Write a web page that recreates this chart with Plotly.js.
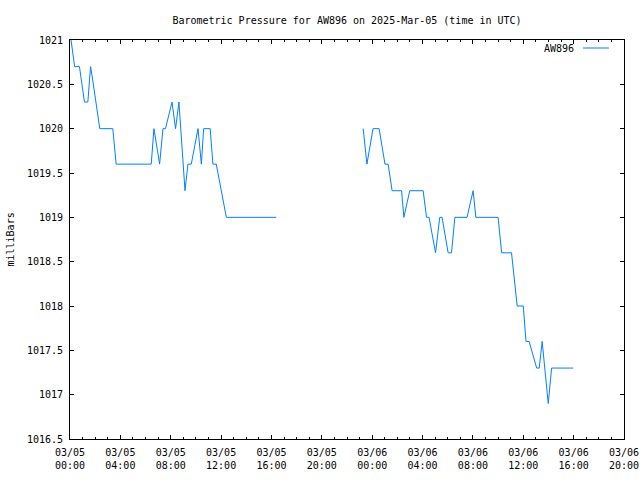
<!DOCTYPE html>
<html>
<head>
<meta charset="utf-8">
<script src="https://cdn.plot.ly/plotly-3.0.1.min.js"></script>
<style>html,body{margin:0;padding:0;background:#fff;}#chart{width:640px;height:480px;}</style>
</head>
<body>
<div id="chart"></div>
<script>
const seriesName = "AW896";
const times = [
  "2025-03-05 00:05","2025-03-05 00:22","2025-03-05 00:45","2025-03-05 01:09","2025-03-05 01:25",
  "2025-03-05 01:38","2025-03-05 01:45","2025-03-05 02:22","2025-03-05 03:24","2025-03-05 03:40",
  "2025-03-05 06:27","2025-03-05 06:40","2025-03-05 07:07","2025-03-05 07:23","2025-03-05 07:35",
  "2025-03-05 08:06","2025-03-05 08:23","2025-03-05 08:39","2025-03-05 09:08","2025-03-05 09:22",
  "2025-03-05 09:38","2025-03-05 10:10","2025-03-05 10:26","2025-03-05 10:37","2025-03-05 11:08",
  "2025-03-05 11:21","2025-03-05 11:37","2025-03-05 12:25","2025-03-05 16:23",
  "2025-03-05 20:00",
  "2025-03-05 23:17","2025-03-05 23:35","2025-03-06 00:04","2025-03-06 00:33","2025-03-06 01:01",
  "2025-03-06 01:16","2025-03-06 01:35","2025-03-06 02:20","2025-03-06 02:31","2025-03-06 02:59",
  "2025-03-06 04:03","2025-03-06 04:19","2025-03-06 04:31","2025-03-06 05:02","2025-03-06 05:22",
  "2025-03-06 05:33","2025-03-06 06:02","2025-03-06 06:18","2025-03-06 06:34","2025-03-06 07:32",
  "2025-03-06 08:01","2025-03-06 08:14","2025-03-06 10:00","2025-03-06 10:17","2025-03-06 11:04",
  "2025-03-06 11:31","2025-03-06 12:00","2025-03-06 12:13","2025-03-06 12:28","2025-03-06 13:04",
  "2025-03-06 13:16","2025-03-06 13:30","2025-03-06 13:59","2025-03-06 14:15","2025-03-06 15:58"
];
const pressure = [
  1021.0,1020.7,1020.7,1020.3,1020.3,
  1020.7,1020.6,1020.0,1020.0,1019.6,
  1019.6,1020.0,1019.6,1020.0,1020.0,
  1020.3,1020.0,1020.3,1019.3,1019.6,
  1019.6,1020.0,1019.6,1020.0,1020.0,
  1019.6,1019.6,1019.0,1019.0,
  null,
  1020.0,1019.6,1020.0,1020.0,1019.6,
  1019.6,1019.3,1019.3,1019.0,1019.3,
  1019.3,1019.0,1019.0,1018.6,1019.0,
  1019.0,1018.6,1018.6,1019.0,1019.0,
  1019.3,1019.0,1019.0,1018.6,1018.6,
  1018.0,1018.0,1017.6,1017.6,1017.3,
  1017.3,1017.6,1016.9,1017.3,1017.3
];
const titleText = "Barometric Pressure for AW896 on 2025-Mar-05 (time in UTC)";
const yTitle = "milliBars";
const xRange = ["2025-03-05 00:00","2025-03-06 20:00"];
const yRange = [1016.5, 1021];

const FONT = "DejaVu Sans Mono, monospace";
const lineColor = "rgb(0,128,255)";

const trace = {
  x: times, y: pressure, type: "scatter", mode: "lines",
  name: seriesName, connectgaps: false,
  line: {color: lineColor, width: 1, shape: "linear"},
  showlegend: false
};

const layout = {
  width: 640, height: 480,
  margin: {l: 70, r: 16, t: 40, b: 41, pad: 0},
  paper_bgcolor: "#fff", plot_bgcolor: "#fff",
  separators: ".",
  font: {family: FONT, size: 10, color: "#000"},
  title: {text: titleText, font: {family: FONT, size: 10, color: "#000"},
          xref: "paper", x: 0.5, xanchor: "center", yref: "container", y: 1 - 20/480, yanchor: "middle"},
  xaxis: {
    type: "date", range: xRange, dtick: 4*3600000, tick0: "2025-03-05 00:00",
    tickformat: "%m/%d<br>%H:%M", ticks: "inside", ticklen: 4, tickcolor: "#000", tickwidth: 1,
    minor: {dtick: 3600000, ticks: "inside", ticklen: 2, tickcolor: "#000", showgrid: false},
    showline: true, linecolor: "#000", linewidth: 1, mirror: "ticks",
    showgrid: false, zeroline: false, fixedrange: true,
    ticklabelstandoff: 4,
    tickfont: {family: FONT, size: 10, color: "#000"}
  },
  yaxis: {
    range: yRange, dtick: 0.5, tick0: 1016.5, tickformat: ".1~f",
    ticks: "inside", ticklen: 4, tickcolor: "#000", tickwidth: 1,
    showline: true, linecolor: "#000", linewidth: 1, mirror: "ticks",
    showgrid: false, zeroline: false, fixedrange: true,
    ticklabelstandoff: 4,
    tickfont: {family: FONT, size: 10, color: "#000"}
  },
  annotations: [
    {text: yTitle, xref: "paper", yref: "paper", x: (10-70)/554, y: 0.5,
     xanchor: "center", yanchor: "middle", textangle: -90, showarrow: false,
     font: {family: FONT, size: 10, color: "#000"}},
    {text: seriesName, xref: "paper", yref: "paper", x: (576-70)/554, y: 1 - 8/399,
     xanchor: "right", yanchor: "middle", showarrow: false,
     font: {family: FONT, size: 10, color: "#000"}}
  ],
  shapes: [
    {type: "line", xref: "paper", yref: "paper", x0: (583-70)/554, x1: (609-70)/554,
     y0: 1 - 8/399, y1: 1 - 8/399, line: {color: lineColor, width: 1}}
  ],
  showlegend: false
};

Plotly.newPlot("chart", [trace], layout, {displayModeBar: false, staticPlot: true});
</script>
</body>
</html>
